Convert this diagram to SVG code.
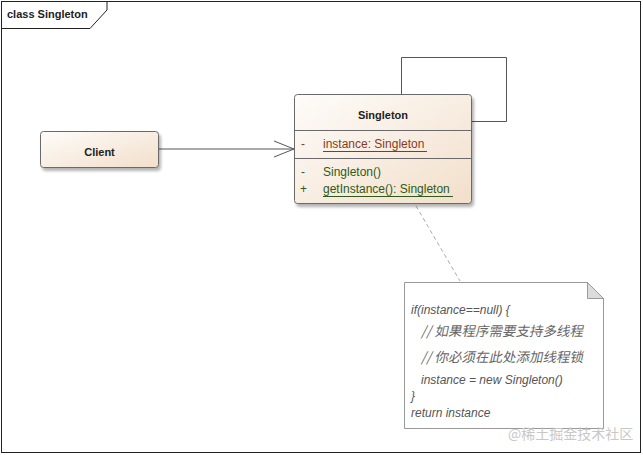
<svg xmlns="http://www.w3.org/2000/svg" width="643" height="455" viewBox="0 0 643 455">
  <defs>
    <linearGradient id="cls" x1="0" y1="0" x2="1" y2="1">
      <stop offset="0" stop-color="#fefcfa"/>
      <stop offset="1" stop-color="#f2dfca"/>
    </linearGradient>
    <filter id="sh" x="-10%" y="-10%" width="130%" height="130%">
      <feGaussianBlur in="SourceAlpha" stdDeviation="1.5"/>
      <feOffset dx="2" dy="3" result="b"/>
      <feComponentTransfer><feFuncA type="linear" slope="0.3"/></feComponentTransfer>
      <feMerge><feMergeNode/><feMergeNode in="SourceGraphic"/></feMerge>
    </filter>
  </defs>
  <style>
    .box { fill: url(#cls); stroke: #6a6a6a; stroke-width: 1; }
    .sep { stroke: #6a6a6a; stroke-width: 1; }
    .ttl { font-family: "Liberation Sans", Arial, sans-serif; font-weight: bold; font-size: 11px; fill: #222; }
    .attr { font-family: "Liberation Sans", Arial, sans-serif; font-size: 12px; fill: #8a3a1c; }
    .meth { font-family: "Liberation Sans", Arial, sans-serif; font-size: 12px; fill: #2f5a18; }
    .note { font-family: "Liberation Sans", Arial, sans-serif; font-style: italic; font-size: 12px; fill: #555; }
    .cjk { font-family: "Noto Sans CJK SC", sans-serif; font-size: 13.5px; fill: #666; }
    .line { fill: none; stroke: #555; stroke-width: 1; }
  </style>
  <rect x="0" y="0" width="643" height="455" fill="#fff"/>
  <g id="frame">
    <rect x="1.5" y="1.5" width="639" height="451" fill="none" stroke="#222" stroke-width="1"/>
    <path d="M1.5 28.5 H90 L107 10 V1.5" fill="none" stroke="#222" stroke-width="1"/>
    <text x="7" y="18" class="ttl">class Singleton</text>
  </g>
  <g id="connectors">
    <path class="line" d="M158 149 H294"/>
    <path class="line" d="M274 141 L294 149 L274 157"/>
    <path class="line" d="M401.5 94 V57.5 H506.5 V121.5 H472"/>
    <path d="M416 206 L460 281" fill="none" stroke="#aaa" stroke-width="1" stroke-dasharray="4,3"/>
  </g>
  <g id="Client">
    <rect class="box" x="40.5" y="131.5" width="118" height="36" rx="3" filter="url(#sh)"/>
    <text x="99.5" y="156" text-anchor="middle" class="ttl">Client</text>
  </g>
  <g id="Singleton">
    <rect class="box" x="294.5" y="94.5" width="177" height="109" rx="3" filter="url(#sh)"/>
    <line class="sep" x1="294.5" y1="130.5" x2="471.5" y2="130.5"/>
    <line class="sep" x1="294.5" y1="158.5" x2="471.5" y2="158.5"/>
    <text x="383" y="119" text-anchor="middle" class="ttl">Singleton</text>
    <text x="301" y="148" class="attr">-</text>
    <text x="323" y="148" class="attr">instance: Singleton</text>
    <line x1="323" y1="151.5" x2="427" y2="151.5" stroke="#8a3a1c" stroke-width="1"/>
    <text x="301" y="176" class="meth">-</text>
    <text x="323" y="176" class="meth">Singleton()</text>
    <text x="300" y="193" class="meth">+</text>
    <text x="323" y="193" class="meth">getInstance(): Singleton</text>
    <line x1="323" y1="196.5" x2="453" y2="196.5" stroke="#2f5a18" stroke-width="1"/>
  </g>
  <g id="note">
    <path d="M404.5 282.5 H587.5 L603.5 298.5 V428.5 H404.5 Z" fill="#fff" stroke="#999" stroke-width="1"/>
    <path d="M587.5 282.5 V298.5 H603.5 Z" fill="#dcdcdc" stroke="#999" stroke-width="1"/>
    <text x="411" y="314" class="note">if(instance==null) {</text>
    <text transform="translate(421,336) skewX(-12)" class="cjk">// 如果程序需要支持多线程</text>
    <text transform="translate(421,362) skewX(-12)" class="cjk">// 你必须在此处添加线程锁</text>
    <text x="421" y="384" class="note">instance = new Singleton()</text>
    <text x="411" y="400" class="note">}</text>
    <text x="411" y="417" class="note">return instance</text>
  </g>
  <text x="508" y="439" font-family="'Noto Sans CJK SC', sans-serif" font-size="14" fill="#c8c8c8">@稀土掘金技术社区</text>
</svg>
